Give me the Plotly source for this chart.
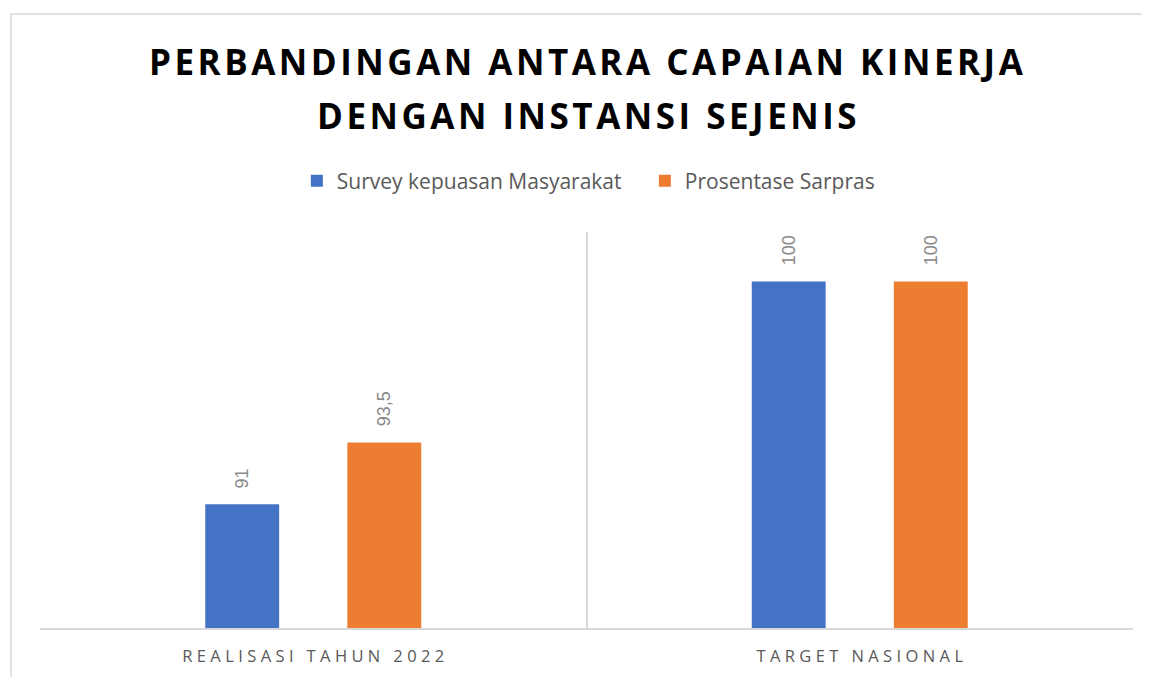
import plotly.graph_objects as go

categories = ['REALISASI TAHUN 2022', 'TARGET NASIONAL']
series_names = ['Survey kepuasan Masyarakat', 'Prosentase Sarpras']
survey_values = [91, 100]
sarpras_values = [93.5, 100]
survey_labels = ['91', '100']
sarpras_labels = ['93,5', '100']
title_lines = ['PERBANDINGAN ANTARA CAPAIAN KINERJA', 'DENGAN INSTANSI SEJENIS']

colors = ['#4472C4', '#ED7D31']
HAIR = '\u200a'
THIN = '\u2009'

# the page has an 8px body margin, so the figure is a bit smaller than the window
W, H = 1142, 669
M = dict(l=32, r=17, t=224, b=49)
PLOT_H = H - M['t'] - M['b']


def spaced(text, sep):
    # fake letter-spacing, plotly has no letterSpacing option
    return sep.join(text)


def paper_y(fig_y):
    return (H - M['b'] - fig_y) / PLOT_H


fig = go.Figure()

for name, vals, color in zip(series_names, [survey_values, sarpras_values], colors):
    fig.add_trace(go.Bar(
        x=categories, y=vals, name=name,
        marker=dict(color=color, line=dict(width=0)),
    ))

# value labels, rotated, sitting a little above each bar
slot = (1 - 0.48) * (W - M['l'] - M['r']) / len(categories) / 2
for offs, vals, labels in [(-slot / 2, survey_values, survey_labels),
                           (slot / 2, sarpras_values, sarpras_labels)]:
    for cat, v, lab in zip(categories, vals, labels):
        fig.add_annotation(
            x=cat, y=v, text=lab, showarrow=False, textangle=-90,
            xanchor='center', yanchor='bottom', xshift=offs, yshift=14,
            font=dict(family='Liberation Sans', size=18, color='#898989'),
        )

for line, cy in zip(title_lines, [53.5, 107.5]):
    fig.add_annotation(
        text=spaced(line, HAIR), xref='paper', yref='paper', x=0.5, y=paper_y(cy),
        xanchor='center', yanchor='middle', showarrow=False,
        font=dict(family='Open Sans', size=35, color='black', weight='bold'),
    )

fig.update_layout(
    width=W, height=H,
    margin=M,
    paper_bgcolor='white', plot_bgcolor='white',
    barmode='group', bargap=0.48, bargroupgap=0.48,
    font=dict(family='Open Sans', color='#595959'),
    legend=dict(
        orientation='h', x=0.235, xanchor='left', y=paper_y(173), yanchor='middle',
        font=dict(size=21, color='#595959'),
        entrywidth=303, entrywidthmode='pixels',
    ),
    showlegend=True,
)

fig.update_xaxes(
    type='category', range=[-0.5, 1.5], automargin=False,
    tickson='boundaries', ticks='', showgrid=True, gridcolor='#D9D9D9', gridwidth=1.5,
    showline=True, linecolor='#D9D9D9', linewidth=2,
    tickmode='array', tickvals=categories,
    ticktext=[spaced(c, THIN + HAIR) for c in categories],
    tickfont=dict(size=16.5, color='#595959'),
    ticklabelstandoff=12,
)
fig.update_yaxes(range=[86, 102], visible=False)

# chart frame (runs off the right and bottom edges like the source)
fig.add_shape(type='rect', xref='paper', yref='paper',
              x0=-0.0265, x1=1.03, y0=-0.2, y1=paper_y(6),
              line=dict(color='#D9D9D9', width=1.5), layer='below')

fig.write_html('out.html')
